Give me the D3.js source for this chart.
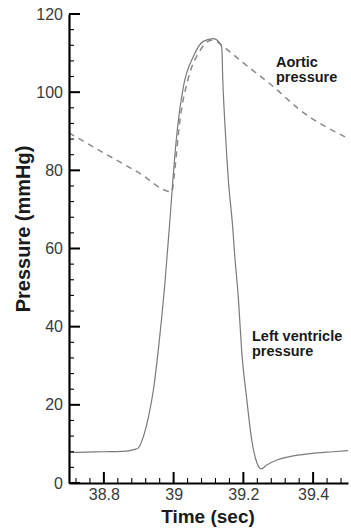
<!DOCTYPE html>
<html>
<head>
<meta charset="utf-8">
<script src="https://cdn.jsdelivr.net/npm/d3@7"></script>
<style>
  body { margin: 0; background: #fff; }
  svg { display: block; font-family: "Liberation Sans", Arial, sans-serif; }
</style>
</head>
<body>
<div id="chart"></div>
<script>
// left ventricle pressure (solid)
var lvTime = [38.70, 38.75, 38.80, 38.85, 38.875, 38.889, 38.899, 38.913, 38.928, 38.942, 38.956, 38.975, 38.99, 39.0, 39.01, 39.028, 39.057, 39.085, 39.114, 39.13, 39.138, 39.141, 39.148, 39.157, 39.17, 39.174, 39.186, 39.195, 39.21, 39.224, 39.239, 39.251, 39.267, 39.296, 39.33, 39.363, 39.41, 39.457, 39.5];
var lvPressure = [7.8, 7.9, 8.0, 8.1, 8.3, 8.6, 9.0, 11.8, 17, 23.8, 34, 51.1, 68, 80, 90, 101.4, 109.2, 113, 113.7, 112.8, 111.5, 103.1, 90.3, 77.5, 64.7, 59.6, 46.8, 34, 21.2, 11, 5.1, 3.6, 4.6, 5.9, 6.7, 7.2, 7.7, 8.0, 8.3];

// aortic pressure (dashed)
var aoTime = [38.70, 38.789, 38.90, 38.995, 39.001, 39.018, 39.042, 39.076, 39.109, 39.124, 39.138, 39.19, 39.286, 39.363, 39.5];
var aoPressure = [89.6, 85.0, 79.4, 74.5, 78.3, 92.8, 103.5, 110.7, 113.3, 112.9, 112.0, 108.2, 101.4, 95.4, 88.2];

var xTicks = [38.8, 39, 39.2, 39.4];
var yTicks = [0, 20, 40, 60, 80, 100, 120];

var width = 351, height = 528;
var svg = d3.select("#chart").append("svg").attr("width", width).attr("height", height);

var x = d3.scaleLinear().domain([38.7, 39.5]).range([69, 348]);
var y = d3.scaleLinear().domain([0, 120]).range([483, 14]);

var lv = lvTime.map(function(t, i) { return [t, lvPressure[i]]; });
var ao = aoTime.map(function(t, i) { return [t, aoPressure[i]]; });

var line = d3.line().x(function(d) { return x(d[0]); }).y(function(d) { return y(d[1]); }).curve(d3.curveMonotoneX);

svg.append("path").datum(ao).attr("d", line).attr("fill", "none")
  .attr("stroke", "#8a8a8a").attr("stroke-width", 1.5).attr("stroke-dasharray", "6,5");
svg.append("path").datum(lv).attr("d", line).attr("fill", "none")
  .attr("stroke", "#7a7a7a").attr("stroke-width", 1.2);

// minor tick values
var xMinor = d3.range(38.72, 39.5, 0.04).filter(function(v) { return Math.abs(Math.round(v * 5) - v * 5) > 0.01; });
var yMinor = d3.range(4, 120, 4).filter(function(v) { return v % 20 != 0; });

// axes: domain + labels from d3, inward ticks drawn below
var xAxis = svg.append("g").attr("transform", "translate(0,483)")
  .call(d3.axisBottom(x).tickValues(xTicks).tickFormat(d3.format("")).tickSize(0).tickPadding(6));
var yAxis = svg.append("g").attr("transform", "translate(69,0)")
  .call(d3.axisLeft(y).tickValues(yTicks).tickSize(0).tickPadding(6));

[xAxis, yAxis].forEach(function(g) {
  g.select(".domain").attr("stroke", "#000").attr("stroke-width", 2.2);
  g.selectAll("text").attr("fill", "#3a3a3a").style("font-size", "16px");
});

var ticks = svg.append("g").attr("stroke", "#000");
ticks.selectAll("line.xmaj").data(xTicks).enter().append("line")
  .attr("x1", function(d) { return x(d); }).attr("x2", function(d) { return x(d); })
  .attr("y1", y(0)).attr("y2", y(0) - 11).attr("stroke-width", 2);
ticks.selectAll("line.xmin").data(xMinor).enter().append("line")
  .attr("x1", function(d) { return x(d); }).attr("x2", function(d) { return x(d); })
  .attr("y1", y(0)).attr("y2", y(0) - 5).attr("stroke-width", 1.1);
ticks.selectAll("line.ymaj").data(yTicks).enter().append("line")
  .attr("y1", function(d) { return y(d); }).attr("y2", function(d) { return y(d); })
  .attr("x1", x(38.7)).attr("x2", x(38.7) + 11).attr("stroke-width", 2);
ticks.selectAll("line.ymin").data(yMinor).enter().append("line")
  .attr("y1", function(d) { return y(d); }).attr("y2", function(d) { return y(d); })
  .attr("x1", x(38.7)).attr("x2", x(38.7) + 5).attr("stroke-width", 1.1);

svg.append("text").attr("x", 208).attr("y", 523).attr("text-anchor", "middle")
  .style("font-size", "19px").style("font-weight", "bold").attr("fill", "#1a1a1a").text("Time (sec)");
svg.append("text").attr("transform", "translate(30,229) rotate(-90)").attr("text-anchor", "middle")
  .style("font-size", "20px").style("font-weight", "bold").attr("fill", "#1a1a1a").text("Pressure (mmHg)");

var labels = [
  { x: 276, y: 67, lines: ["Aortic", "pressure"] },
  { x: 252, y: 341, lines: ["Left ventricle", "pressure"] }
];
labels.forEach(function(l) {
  var t = svg.append("text").attr("x", l.x).attr("y", l.y)
    .style("font-size", "14.5px").style("font-weight", "bold").attr("fill", "#1a1a1a");
  l.lines.forEach(function(s, i) {
    t.append("tspan").attr("x", l.x).attr("dy", i == 0 ? 0 : 15).text(s);
  });
});
</script>
</body>
</html>
